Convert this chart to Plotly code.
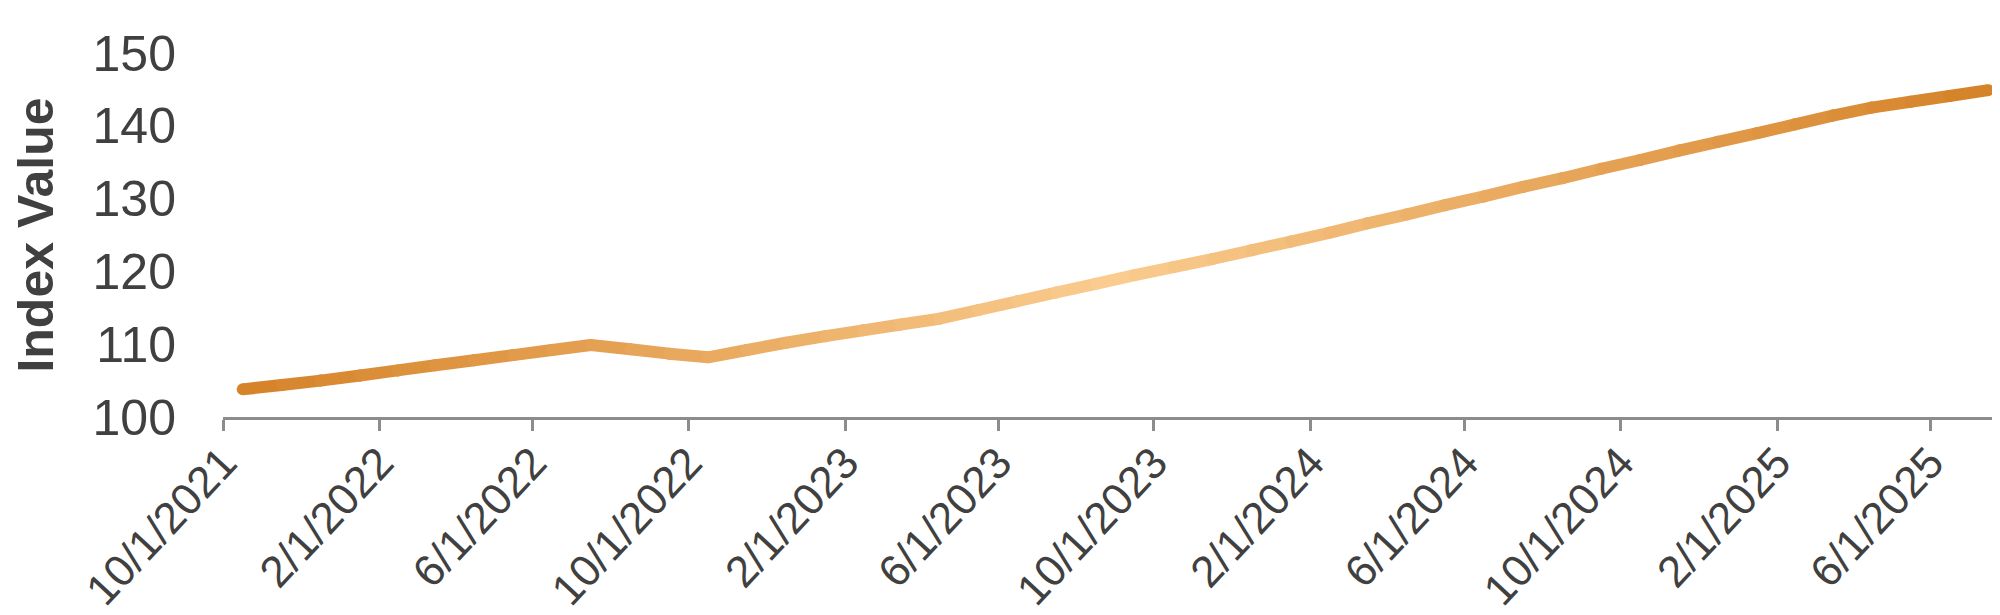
import plotly.graph_objects as go

# monthly index values, Oct 2021 .. Jul 2025
months = [
    "2021-10-01", "2021-11-01", "2021-12-01",
    "2022-01-01", "2022-02-01", "2022-03-01", "2022-04-01", "2022-05-01", "2022-06-01",
    "2022-07-01", "2022-08-01", "2022-09-01", "2022-10-01", "2022-11-01", "2022-12-01",
    "2023-01-01", "2023-02-01", "2023-03-01", "2023-04-01", "2023-05-01", "2023-06-01",
    "2023-07-01", "2023-08-01", "2023-09-01", "2023-10-01", "2023-11-01", "2023-12-01",
    "2024-01-01", "2024-02-01", "2024-03-01", "2024-04-01", "2024-05-01", "2024-06-01",
    "2024-07-01", "2024-08-01", "2024-09-01", "2024-10-01", "2024-11-01", "2024-12-01",
    "2025-01-01", "2025-02-01", "2025-03-01", "2025-04-01", "2025-05-01", "2025-06-01",
    "2025-07-01",
]
index_value = [
    103.8, 104.4, 105.0,
    105.7, 106.4, 107.1, 107.8, 108.5, 109.2,
    109.9, 109.3, 108.7, 108.2, 109.2, 110.2,
    111.1, 111.9, 112.7, 113.5, 114.7, 115.9,
    117.1, 118.3, 119.5, 120.6, 121.7, 122.9,
    124.1, 125.3, 126.6, 127.8, 129.1, 130.3,
    131.6, 132.8, 134.1, 135.3, 136.6, 137.8,
    139.0, 140.2, 141.4, 142.5, 143.3, 144.1,
    144.9,
]
tick_dates = [
    "2021-10-01", "2022-02-01", "2022-06-01", "2022-10-01", "2023-02-01", "2023-06-01",
    "2023-10-01", "2024-02-01", "2024-06-01", "2024-10-01", "2025-02-01", "2025-06-01",
]
y_ticks = [100, 110, 120, 130, 140, 150]

DARK = (213, 130, 40)
LIGHT = (250, 204, 143)
TEXT = "#404040"
AXIS = "#8c8c8c"
FONT = "Liberation Sans, Arial, sans-serif"


def shade(pos, centre):
    # orange gradient: dark at both ends, pale around the centre
    t = max(0.0, 1 - abs(pos - centre) / centre)
    rgb = [round(d + (l - d) * t) for d, l in zip(DARK, LIGHT)]
    return "rgb(%d,%d,%d)" % tuple(rgb)


fig = go.Figure()
n = len(index_value)
for i in range(n - 1):
    c = shade(i + 0.5, (n - 1) / 2)
    fig.add_trace(go.Scatter(
        x=months[i:i + 2],
        y=index_value[i:i + 2],
        xperiod="M1",
        xperiodalignment="middle",
        mode="lines+markers",
        line=dict(color=c, width=12),
        marker=dict(color=c, size=12),
        cliponaxis=False,
        showlegend=False,
        hoverinfo="skip",
    ))

fig.update_layout(
    width=2000,
    height=615,
    margin=dict(l=215, r=0, t=45, b=206),
    paper_bgcolor="white",
    plot_bgcolor="white",
    font=dict(family=FONT, color=TEXT, size=48),
)
fig.update_xaxes(
    type="date",
    range=["2021-10-01", "2025-08-01"],
    tickvals=tick_dates,
    tickformat="%-m/%-d/%Y",
    tickangle=-47,
    tickfont=dict(size=44, color=TEXT),
    ticklabelstandoff=-12,
    showgrid=False,
    zeroline=False,
    showline=True,
    linecolor=AXIS,
    linewidth=3,
    ticks="outside",
    ticklen=11,
    tickwidth=3,
    tickcolor=AXIS,
)
fig.update_yaxes(
    range=[100, 150],
    tickvals=y_ticks,
    tickfont=dict(size=50, color=TEXT),
    showgrid=False,
    zeroline=False,
    showline=False,
    ticks="",
    ticklabelstandoff=46,
    title=dict(text="<b>Index Value</b>", font=dict(size=50, color=TEXT), standoff=34),
)

fig.write_html("out.html")
